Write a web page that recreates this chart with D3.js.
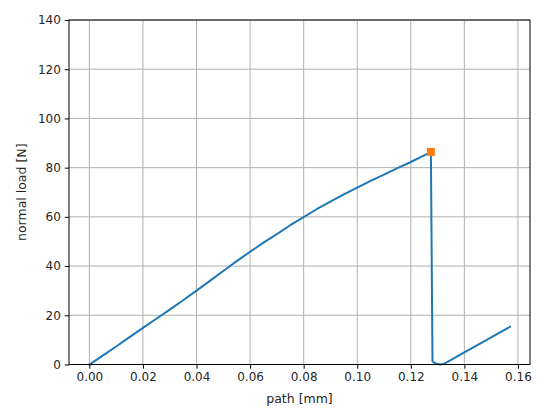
<!DOCTYPE html>
<html>
<head>
<meta charset="utf-8">
<script src="https://cdn.jsdelivr.net/npm/d3@7"></script>
<style>
  body { margin: 0; background: #fff; }
  text { font-family: "DejaVu Sans", sans-serif; fill: #262626; }
</style>
</head>
<body>
<div class="container"></div>
<script>
// measured curve: path [mm] vs normal load [N]
const pathMm = [0, 0.005, 0.01, 0.015, 0.02, 0.025, 0.03, 0.035, 0.04, 0.045, 0.05, 0.055,
  0.06, 0.065, 0.07, 0.075, 0.08, 0.085, 0.09, 0.095, 0.10, 0.105, 0.11, 0.115, 0.12, 0.125,
  0.1275, 0.1281, 0.1296, 0.131, 0.1325, 0.1334, 0.14, 0.145, 0.15, 0.155, 0.157];
const loadN = [0, 3.6, 7.3, 11.1, 14.9, 18.6, 22.3, 26.1, 30.0, 34.0, 38.0, 42.0,
  45.8, 49.5, 53.0, 56.6, 59.9, 63.2, 66.2, 69.1, 71.9, 74.6, 77.2, 79.8, 82.3, 85.0,
  86.4, 1.2, 0.3, 0.0, 0.3, 0.9, 4.9, 8.0, 11.0, 14.1, 15.3];
// maximum load marker
const peak = {x: 0.1275, y: 86.4};
const xTicks = [0, 0.02, 0.04, 0.06, 0.08, 0.10, 0.12, 0.14, 0.16];
const yTicks = [0, 20, 40, 60, 80, 100, 120, 140];

(function(){
  const config = {w: 550, h: 418, left: 69, right: 530, top: 20, bottom: 364.5};

  const svg = d3.select('.container').append('svg')
    .attr('width', config.w)
    .attr('height', config.h);

  const x = d3.scaleLinear()
    .domain([-0.0076, 0.1645])
    .range([config.left, config.right]);

  const y = d3.scaleLinear()
    .domain([0, 140])
    .range([config.bottom, config.top]);

  // grid
  const grid = svg.append('g').attr('stroke', '#b0b0b0').attr('stroke-width', 1);
  grid.selectAll('line.vx').data(xTicks).enter().append('line')
    .attr('x1', d => x(d)).attr('x2', d => x(d))
    .attr('y1', config.top).attr('y2', config.bottom);
  grid.selectAll('line.hy').data(yTicks).enter().append('line')
    .attr('x1', config.left).attr('x2', config.right)
    .attr('y1', d => y(d)).attr('y2', d => y(d));

  // curve
  const data = pathMm.map((d, i) => [d, loadN[i]]);
  svg.append('path')
    .datum(data)
    .attr('fill', 'none')
    .attr('stroke', '#1f77b4')
    .attr('stroke-width', 2)
    .attr('stroke-linejoin', 'round')
    .attr('stroke-linecap', 'square')
    .attr('d', d3.line().x(d => x(d[0])).y(d => y(d[1])));

  svg.append('rect')
    .attr('x', x(peak.x) - 4)
    .attr('y', y(peak.y) - 4)
    .attr('width', 8)
    .attr('height', 8)
    .attr('fill', '#ff7f0e');

  // axes
  const xAxis = svg.append('g')
    .attr('transform', `translate(0,${config.bottom})`)
    .call(d3.axisBottom(x).tickValues(xTicks).tickFormat(d3.format('.2f')).tickSize(4.2).tickPadding(4));
  const yAxis = svg.append('g')
    .attr('transform', `translate(${config.left},0)`)
    .call(d3.axisLeft(y).tickValues(yTicks).tickSize(4.2).tickPadding(4));

  [xAxis, yAxis].forEach(a => {
    a.select('.domain').remove();
    a.selectAll('line').attr('stroke', '#000').attr('stroke-width', 1);
    a.selectAll('text').attr('font-size', 12).attr('font-family', '"DejaVu Sans", sans-serif').attr('fill', '#262626');
  });

  // frame
  svg.append('rect')
    .attr('x', config.left).attr('y', config.top)
    .attr('width', config.right - config.left)
    .attr('height', config.bottom - config.top)
    .attr('fill', 'none')
    .attr('stroke', '#000')
    .attr('stroke-width', 1);

  svg.append('text')
    .attr('x', (config.left + config.right) / 2)
    .attr('y', 403)
    .attr('text-anchor', 'middle')
    .attr('font-size', 12.5)
    .text('path [mm]');

  svg.append('text')
    .attr('transform', `translate(26,${(config.top + config.bottom) / 2}) rotate(-90)`)
    .attr('text-anchor', 'middle')
    .attr('font-size', 12.5)
    .text('normal load [N]');
})();
</script>
</body>
</html>
